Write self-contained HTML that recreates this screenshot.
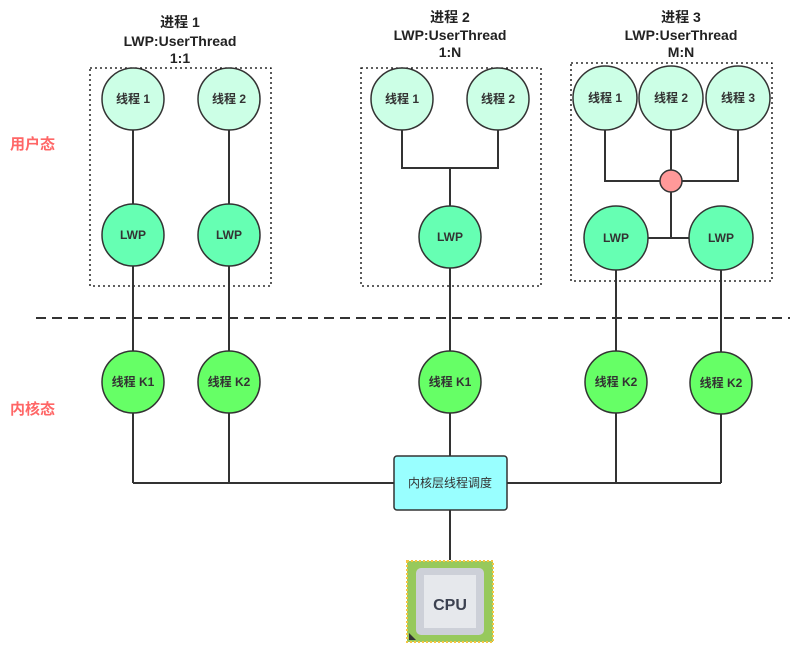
<!DOCTYPE html>
<html><head><meta charset="utf-8"><style>body{margin:0;background:#fff}text{font-family:"Liberation Sans","Noto Sans CJK SC",sans-serif}</style></head><body>
<svg width="812" height="646" viewBox="0 0 812 646" xmlns="http://www.w3.org/2000/svg">
<g fill="none" stroke="#000" stroke-width="1.3" stroke-dasharray="2,3">
<rect x="90" y="68" width="181" height="218"/>
<rect x="361" y="68" width="180" height="218"/>
<rect x="571" y="63" width="201" height="218"/>
</g>
<line x1="36" y1="318" x2="790" y2="318" stroke="#333" stroke-width="2" stroke-dasharray="10,6"/>
<g stroke="#333" stroke-width="2" fill="none">
<line x1="133" y1="99" x2="133" y2="483"/><line x1="229" y1="99" x2="229" y2="483"/>
<polyline points="402,99 402,168 498,168 498,99"/><line x1="450" y1="168" x2="450" y2="560"/>
<polyline points="605,98 605,181 738,181 738,98"/><line x1="671" y1="98" x2="671" y2="238"/>
<line x1="616" y1="238" x2="721" y2="238"/>
<line x1="616" y1="238" x2="616" y2="483"/><line x1="721" y1="238" x2="721" y2="483"/>
<line x1="133" y1="483" x2="721" y2="483"/>
</g>
<g stroke="#333" stroke-width="1.5" font-size="12" font-weight="bold" text-anchor="middle" fill="#333">
<g fill="#ccffe6"><circle cx="133" cy="99" r="31"/><circle cx="229" cy="99" r="31"/><circle cx="402" cy="99" r="31"/><circle cx="498" cy="99" r="31"/><circle cx="605" cy="98" r="32"/><circle cx="671" cy="98" r="32"/><circle cx="738" cy="98" r="32"/></g>
<g fill="#66ffb3"><circle cx="133" cy="235" r="31"/><circle cx="229" cy="235" r="31"/><circle cx="450" cy="237" r="31"/><circle cx="616" cy="238" r="32"/><circle cx="721" cy="238" r="32"/></g>
<g fill="#66ff66"><circle cx="133" cy="382" r="31"/><circle cx="229" cy="382" r="31"/><circle cx="450" cy="382" r="31"/><circle cx="616" cy="382" r="31"/><circle cx="721" cy="383" r="31"/></g>
<circle cx="671" cy="181" r="11" fill="#ff9999"/>
<rect x="394" y="456" width="113" height="54" rx="3" fill="#99ffff"/>
</g>
<g font-size="12" font-weight="bold" text-anchor="middle" fill="#333">
<text x="133" y="103">线程 1</text><text x="229" y="103">线程 2</text><text x="402" y="103">线程 1</text><text x="498" y="103">线程 2</text><text x="605" y="102">线程 1</text><text x="671" y="102">线程 2</text><text x="738" y="102">线程 3</text>
<text x="133" y="239">LWP</text><text x="229" y="239">LWP</text><text x="450" y="241">LWP</text><text x="616" y="242">LWP</text><text x="721" y="242">LWP</text>
<text x="133" y="386">线程 K1</text><text x="229" y="386">线程 K2</text><text x="450" y="386">线程 K1</text><text x="616" y="386">线程 K2</text><text x="721" y="387">线程 K2</text>
<text x="450" y="487" font-weight="normal">内核层线程调度</text>
</g>
<g font-size="14" font-weight="bold" text-anchor="middle" fill="#222">
<text x="180" y="27">进程 1</text><text x="180" y="46">LWP:UserThread</text><text x="180" y="63">1:1</text>
<text x="450" y="22">进程 2</text><text x="450" y="40">LWP:UserThread</text><text x="450" y="57">1:N</text>
<text x="681" y="22">进程 3</text><text x="681" y="40">LWP:UserThread</text><text x="681" y="57">M:N</text>
</g>
<g font-size="15" font-weight="bold" fill="#ff6666"><text x="10" y="149">用户态</text><text x="10" y="414">内核态</text></g>
<rect x="407" y="561" width="86" height="81" fill="#97c95c" stroke="#f5c542" stroke-width="2" stroke-dasharray="2,2"/>
<rect x="416" y="568" width="68" height="67" rx="5" fill="#cdd0d8"/>
<rect x="424" y="575" width="52" height="53" fill="#e6e8ec"/>
<polygon points="409,640 409,633 416,640" fill="#333"/>
<text x="450" y="610" font-size="16" font-weight="bold" text-anchor="middle" fill="#3c4150">CPU</text>
</svg>
</body></html>
